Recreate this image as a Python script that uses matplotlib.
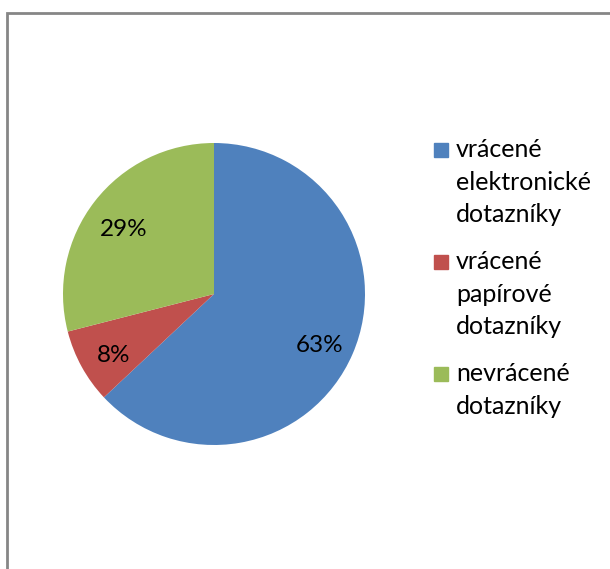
import matplotlib.pyplot as plt
from matplotlib.patches import Rectangle

labels = ['vrácené\nelektronické\ndotazníky', 'vrácené\npapírové\ndotazníky', 'nevrácené\ndotazníky']
values = [63, 8, 29]
colors = ['#4f81bd', '#c0504d', '#9bbb59']

plt.rcParams['font.family'] = ['Lato', 'DejaVu Sans']

W, H = 610, 569
fig = plt.figure(figsize=(W / 100, H / 100), dpi=100)
# gray frame around the chart area
fig.patches.append(Rectangle((7 / W, -0.05), 1.1, 1 - 13 / H + 0.05,
                             transform=fig.transFigure, fill=False,
                             edgecolor='#868686', linewidth=2))

r = 151
ax = fig.add_axes([(214 - r) / W, (H - 294 - r) / H, 2 * r / W, 2 * r / H])
wedges, texts, autotexts = ax.pie(values, colors=colors, startangle=90, counterclock=False,
                                  autopct='%1.0f%%', pctdistance=0.76,
                                  textprops={'fontsize': 17.5, 'color': 'black'})
for t in autotexts:
    x, y = t.get_position()
    t.set_position((x, y - 0.04))
ax.set_aspect('auto')
ax.set_xlim(-1, 1)
ax.set_ylim(-1, 1)

# legend drawn by hand: square next to the first line, wrapped labels
for i, (lab, c) in enumerate(zip(labels, colors)):
    base = 157 + 112 * i
    fig.patches.append(Rectangle((434 / W, 1 - base / H), 14 / W, 14 / H,
                                 transform=fig.transFigure, color=c))
    for j, line in enumerate(lab.split('\n')):
        fig.text(456 / W, 1 - (base + 32.5 * j) / H, line, fontsize=18,
                 va='baseline', ha='left')

plt.savefig('out.png', dpi=100)
